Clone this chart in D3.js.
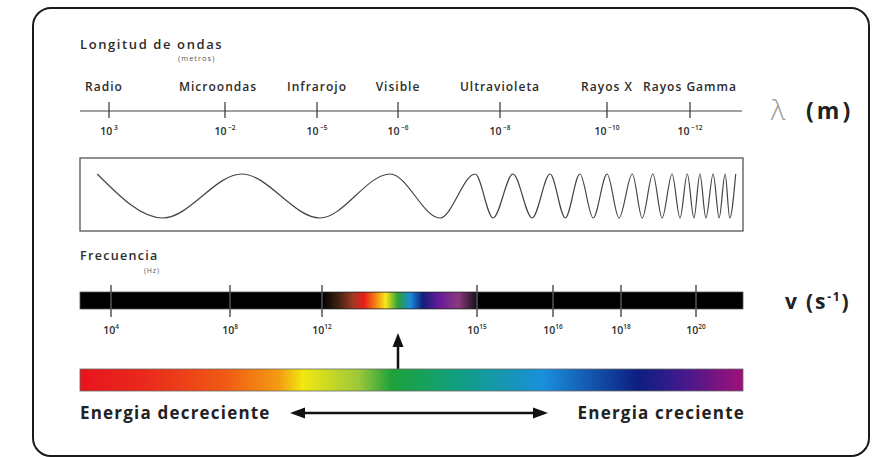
<!DOCTYPE html>
<html><head><meta charset="utf-8">
<script src="https://cdn.jsdelivr.net/npm/d3@7"></script>
<style>html,body{margin:0;padding:0;background:#fff;} svg{display:block;font-family:"Open Sans",sans-serif;}</style>
</head><body><svg id="c" width="879" height="457"></svg>
<script>
// ---- data ----
const lambdaCategories = ["Radio","Microondas","Infrarojo","Visible","Ultravioleta","Rayos X","Rayos Gamma"];
const lambdaExponents = [3,-2,-5,-6,-8,-10,-12];
const freqExponents = [4,8,12,15,16,18,20];
// crest/trough positions of the drawn wave, % of box width (crest, trough, crest, ...)
const waveExtremaPct = [2.6,12.5,24.4,36.2,46.8,54.3,59.6,62.3,65.3,68.2,70.9,73.2,75.4,77.4,79.5,81.3,83.3,84.8,86.4,87.8,89.3,90.5,91.6,92.6,93.5,94.4,95.5,96.4,97.3,98.0,98.9];
// visible strip colours inside the frequency bar (from 10^12 to 10^15)
const visibleStops = [0,0.1,0.2,0.27,0.34,0.41,0.49,0.57,0.65,0.76,0.88,1];
const visibleColors = ["#000000","#3a2010","#a03a22","#e81d1d","#f57a10","#f8e81a","#2aa038","#1a8ad8","#141e7a","#6a1a9a","#8a3a80","#151015"];
// energy bar colours
const energyStops = [0,0.1,0.22,0.3,0.336,0.42,0.47,0.56,0.7,0.84,0.9,1];
const energyColors = ["#e8141c","#ea2a1c","#f05a14","#f39c12","#f2e80f","#9cc83a","#1fa23a","#10a07a","#1a8fdc","#0c1f80","#3a1a8c","#a0107a"];

// ---- layout ----
const X0 = 80, X1 = 743;
const svg = d3.select("#c");
const defs = svg.append("defs");
const textCol = "#2c2c2c";

// outer frame
svg.append("rect").attr("x",33).attr("y",8).attr("width",836).attr("height",448)
  .attr("rx",18).attr("fill","none").attr("stroke","#1a1a1a").attr("stroke-width",2);

// scales (piecewise, tick spacing of the original is irregular)
const lscale = d3.scaleLinear().domain(lambdaExponents).range([109,225,317,398,500,607,690]);
const fscale = d3.scaleLinear().domain(freqExponents).range([111,230,322,477,553,621,696]);

// titles
svg.append("text").attr("x",80).attr("y",49).attr("font-size",13).attr("font-weight",600).attr("letter-spacing",1.6)
  .attr("fill",textCol).text("Longitud de ondas");
svg.append("text").attr("x",178).attr("y",61).attr("font-size",7.5).attr("letter-spacing",1).attr("fill","#555").text("(metros)");

// wavelength axis
const lg = svg.append("g");
lg.append("line").attr("x1",X0).attr("x2",742).attr("y1",111).attr("y2",111).attr("stroke","#444").attr("stroke-width",1.2);
lambdaExponents.forEach((e,i)=>{
  const x = lscale(e);
  lg.append("line").attr("x1",x).attr("x2",x).attr("y1",102).attr("y2",118).attr("stroke","#333").attr("stroke-width",1.2);
  lg.append("text").attr("x",x + (i===0?-5:(i===1?-7:0))).attr("y",91).attr("text-anchor","middle")
    .attr("font-size",12).attr("font-weight",600).attr("letter-spacing",1).attr("fill",textCol).text(lambdaCategories[i]);
  const t = lg.append("text").attr("x",x).attr("y",135).attr("text-anchor","middle").attr("font-size",10.5).attr("font-weight",600).attr("fill",textCol);
  t.append("tspan").text("10");
  t.append("tspan").attr("dy",-5).attr("font-size",6.5).text(" " + (e<0?"\u2212"+(-e):e));
});
svg.append("text").attr("x",771).attr("y",120).attr("font-size",28).attr("font-weight",300).attr("fill","#999").text("\u03bb");
svg.append("text").attr("x",806).attr("y",119).attr("font-size",23).attr("font-weight",700).attr("letter-spacing",3).attr("fill","#222").text("(m)");

// wave box
svg.append("rect").attr("x",X0).attr("y",158).attr("width",X1-X0).attr("height",73)
  .attr("fill","none").attr("stroke","#555").attr("stroke-width",1.3);
const wx = d3.scaleLinear().domain([0,100]).range([X0,X1]);
const wy = d3.scaleLinear().domain([-1,1]).range([218,174]);
const wavePts = waveExtremaPct.map((p,i)=>[wx(p), wy(i%2===0?1:-1)]);
svg.append("path").attr("d", d3.line().curve(d3.curveMonotoneX)(wavePts))
  .attr("fill","none").attr("stroke","#444").attr("stroke-width",1.2);

// frequency
svg.append("text").attr("x",80).attr("y",260).attr("font-size",12.5).attr("font-weight",600).attr("letter-spacing",1.3).attr("fill",textCol).text("Frecuencia");
svg.append("text").attr("x",144).attr("y",273).attr("font-size",7).attr("letter-spacing",0.8).attr("fill","#555").text("(Hz)");

const vg = defs.append("linearGradient").attr("id","vis").attr("gradientUnits","userSpaceOnUse")
  .attr("x1",fscale(12)).attr("x2",fscale(15)).attr("y1",0).attr("y2",0);
visibleStops.forEach((s,i)=>vg.append("stop").attr("offset",s).attr("stop-color",visibleColors[i]));
svg.append("rect").attr("x",X0).attr("y",292).attr("width",X1-X0).attr("height",17).attr("fill","#000").attr("stroke","#555").attr("stroke-width",0.8);
svg.append("rect").attr("x",fscale(12)).attr("y",292.5).attr("width",fscale(15)-fscale(12)).attr("height",16).attr("fill","url(#vis)");
freqExponents.forEach(e=>{
  const x = fscale(e);
  svg.append("line").attr("x1",x).attr("x2",x).attr("y1",285).attr("y2",317).attr("stroke","#555").attr("stroke-width",1.5);
  const t = svg.append("text").attr("x",x).attr("y",334).attr("text-anchor","middle").attr("font-size",10.5).attr("font-weight",600).attr("fill",textCol);
  t.append("tspan").text("10");
  t.append("tspan").attr("dy",-5).attr("font-size",6.5).text(e);
});
const nu = svg.append("text").attr("x",785).attr("y",309).attr("font-size",21).attr("font-weight",700).attr("letter-spacing",1.8).attr("fill","#222");
nu.append("tspan").text("v (s");
nu.append("tspan").attr("dy",-8).attr("font-size",12).text("-1");
nu.append("tspan").attr("dy",8).text(")");

// up arrow
svg.append("line").attr("x1",398).attr("x2",398).attr("y1",369).attr("y2",344).attr("stroke","#111").attr("stroke-width",2.5);
svg.append("path").attr("d","M398,333 L392.5,347 L403.5,347 Z").attr("fill","#111");

// energy bar
const eg = defs.append("linearGradient").attr("id","en").attr("gradientUnits","userSpaceOnUse")
  .attr("x1",X0).attr("x2",X1).attr("y1",0).attr("y2",0);
energyStops.forEach((s,i)=>eg.append("stop").attr("offset",s).attr("stop-color",energyColors[i]));
svg.append("rect").attr("x",X0).attr("y",369).attr("width",X1-X0).attr("height",22).attr("fill","url(#en)").attr("stroke","#666").attr("stroke-width",0.8);

// energy labels + double arrow
svg.append("text").attr("x",80).attr("y",419).attr("font-size",17).attr("font-weight",700).attr("letter-spacing",1.2).attr("fill","#222").text("Energia decreciente");
svg.append("text").attr("x",745).attr("y",419).attr("text-anchor","end").attr("font-size",17).attr("font-weight",700).attr("letter-spacing",1.2).attr("fill","#222").text("Energia creciente");
svg.append("line").attr("x1",300).attr("x2",538).attr("y1",413).attr("y2",413).attr("stroke","#111").attr("stroke-width",2.5);
svg.append("path").attr("d","M290,413 L305,407.5 L305,418.5 Z").attr("fill","#111");
svg.append("path").attr("d","M548,413 L533,407.5 L533,418.5 Z").attr("fill","#111");
</script></body></html>
